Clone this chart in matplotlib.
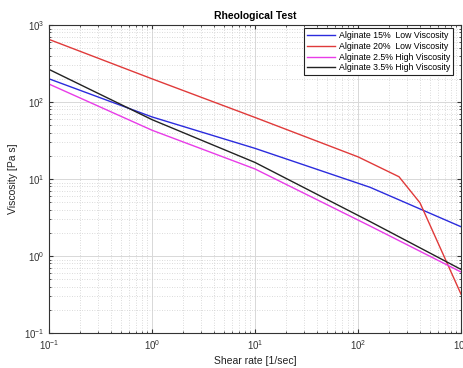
import matplotlib
matplotlib.use("Agg")
import matplotlib.pyplot as plt

plt.rcParams['font.family'] = ['Liberation Sans', 'DejaVu Sans']

# values (shear rate [1/sec] -> viscosity [Pa s])
alg15_x = [0.1, 1, 10, 131, 1000]
alg15_y = [200, 64, 25, 7.8, 2.4]

alg20_x = [0.1, 1, 10, 100, 250, 400, 1000]
alg20_y = [650, 200, 63, 19.4, 10.7, 4.9, 0.32]

alg25_x = [0.1, 1, 10, 131, 1000]
alg25_y = [171, 43, 13.5, 2.45, 0.62]

alg35_x = [0.1, 1, 10, 131, 1000]
alg35_y = [265, 59, 16.4, 2.8, 0.67]

labels = ['Alginate 15%  Low Viscosity', 'Alginate 20%  Low Viscosity',
          'Alginate 2.5% High Viscosity', 'Alginate 3.5% High Viscosity']

fig = plt.figure(figsize=(4.63, 3.68), dpi=100)
ax = fig.add_axes([49 / 463, 35 / 368, 412 / 463, 308 / 368])

ax.loglog(alg15_x, alg15_y, color='#2b2bdd', lw=1.0, label=labels[0])
ax.loglog(alg20_x, alg20_y, color='#e03a3a', lw=1.0, label=labels[1])
ax.loglog(alg25_x, alg25_y, color='#e83ce8', lw=1.0, label=labels[2])
ax.loglog(alg35_x, alg35_y, color='#222222', lw=1.0, label=labels[3])

ax.set_xlim(0.1, 1000)
ax.set_ylim(0.1, 1000)

ax.grid(True, which='major', color='#d8d8d8', lw=0.7, ls='-')
ax.grid(True, which='minor', color='#cfcfcf', lw=0.6, ls=(0, (1, 2)))
ax.set_axisbelow(True)

ax.tick_params(which='both', direction='in', top=True, right=True,
               labelsize=7, colors='#333333')
ax.tick_params(which='major', length=3)
ax.tick_params(which='minor', length=1.5)
for s in ax.spines.values():
    s.set_color('#333333')
    s.set_linewidth(0.8)

ax.set_xlabel('Shear rate [1/sec]', fontsize=7.5, color='#222222', labelpad=3)
ax.set_ylabel('Viscosity [Pa s]', fontsize=7.5, color='#222222', labelpad=4)
ax.set_title('Rheological Test', fontsize=7.5, fontweight='bold', pad=4)

leg = ax.legend(loc='upper right', bbox_to_anchor=(0.981, 0.990),
                fontsize=6.3, fancybox=False, framealpha=1,
                edgecolor='#222222', borderpad=0.35, labelspacing=0.2,
                handlelength=3.2, handletextpad=0.4, borderaxespad=0)
leg.get_frame().set_linewidth(0.8)

plt.savefig("out.png", dpi=100)
plt.close()
